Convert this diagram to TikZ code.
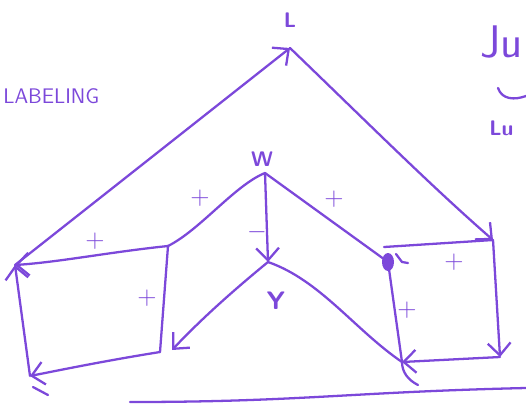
\documentclass[tikz,border=0pt]{standalone}
\usetikzlibrary{arrows.meta}
\definecolor{pen}{RGB}{124,72,218}
\begin{document}
\begin{tikzpicture}[x=0.02cm,y=-0.02cm,
  ink/.style={draw=pen, line width=1.3pt, line cap=round, line join=round},
  arr/.style={ink, -{Straight Barb[length=7pt,width=13pt]}},
  lbl/.style={text=pen, font=\sffamily, inner sep=0pt},
  sgn/.style={text=pen, font=\sffamily\Large, inner sep=0pt}]
\useasboundingbox (0,0) rectangle (526,403);
% vertices
\coordinate (L) at (290,48);
\coordinate (A) at (15,265);
\coordinate (B) at (168,246);
\coordinate (C) at (30,376);
\coordinate (D) at (160,352);
\coordinate (W) at (265,173);
\coordinate (Y) at (268,262);
\coordinate (Yend) at (172,350);
\coordinate (Ea) at (388,262);
\coordinate (Et) at (384,247);
\coordinate (F) at (493,240);
\coordinate (G) at (500,357);
\coordinate (H) at (402,362);
% edges
\draw[arr] (A) -- (L);
\draw[arr] (L) .. controls (370,125) and (430,185) .. (F);
\draw[arr] (B) .. controls (110,252) and (60,262) .. (A);
\draw[arr] (C) -- (A);
\draw[arr] (D) .. controls (110,360) and (70,368) .. (C);
\draw[ink] (B) -- (D);
\draw[ink] (B) .. controls (200,230) and (235,185) .. (W);
\draw[arr] (W) -- (Y);
\draw[arr] (Y) .. controls (240,285) and (205,315) .. (Yend);
\draw[ink] (Y) .. controls (320,280) and (355,330) .. (H);
\draw[ink] (W) -- (Ea);
\draw[ink] (Et) -- (F);
\draw[ink] (Ea) -- (H);
\draw[arr] (F) -- (G);
\draw[arr] (G) -- (H);
% blob and tails
\fill[pen] (Ea) ellipse (6 and 9);
\draw[ink] (396,254) -- (402,262) -- (408,263);
\draw[ink] (H) .. controls (402,372) and (408,380) .. (418,385);
\coordinate (t1) at (33,387);
\coordinate (t2) at (48,395);
\draw[ink] (t1) -- (t2);
\coordinate (b1) at (130,402);
\coordinate (b2) at (526,388);
\draw[ink] (b1) .. controls (300,402) and (350,392) .. (b2);
% labels
\node[lbl, font=\sffamily\bfseries\large] (lL) at (290,20) {L};
\node[lbl, font=\sffamily\bfseries\large] (lW) at (262,159) {W};
\node[lbl, font=\sffamily\bfseries\Large] (lY) at (276,301) {Y};
\node[sgn] (p1) at (95,241) {+};
\node[sgn] (p2) at (147,298) {+};
\node[sgn] (p3) at (200,198) {+};
\node[sgn] (p4) at (257,232) {$-$};
\node[sgn] (p5) at (334,199) {+};
\node[sgn] (p6) at (454,262) {+};
\node[sgn] (p7) at (407,310) {+};
\node[lbl, anchor=west, font=\sffamily\large] (lab) at (3,96) {LABELING};
\node[lbl, anchor=west, font=\sffamily\fontsize{26}{28}\selectfont] (ju) at (480,42) {Ju};
\draw[ink] (498,88) .. controls (502,100) and (515,100) .. (526,96);
\node[lbl, anchor=west, font=\sffamily\bfseries\large] (lu) at (489,128) {Lu};
\end{tikzpicture}
\end{document}
